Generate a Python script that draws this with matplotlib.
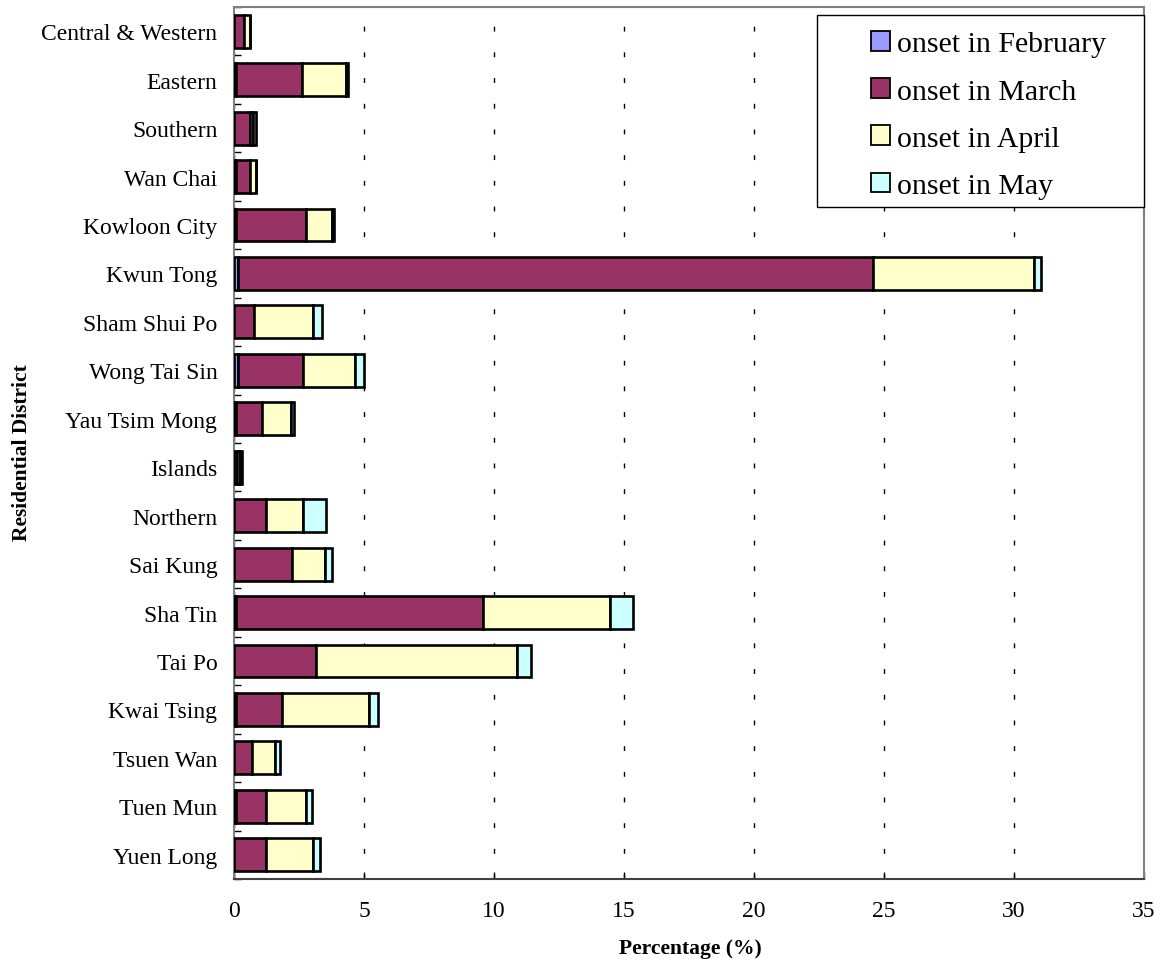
import numpy as np
import matplotlib
matplotlib.use("Agg")
import matplotlib.pyplot as plt
from matplotlib.patches import Rectangle

plt.rcParams['font.family'] = ['Liberation Serif', 'DejaVu Serif']

# Districts, top to bottom as drawn
districts = ['Central & Western', 'Eastern', 'Southern', 'Wan Chai', 'Kowloon City',
             'Kwun Tong', 'Sham Shui Po', 'Wong Tai Sin', 'Yau Tsim Mong', 'Islands',
             'Northern', 'Sai Kung', 'Sha Tin', 'Tai Po', 'Kwai Tsing', 'Tsuen Wan',
             'Tuen Mun', 'Yuen Long']

# Percentage of cases by month of onset
onset_feb = [0.0, 0.08, 0.0, 0.08, 0.08, 0.15, 0.0, 0.15, 0.08, 0.0,
             0.0, 0.0, 0.08, 0.0, 0.08, 0.0, 0.08, 0.0]
onset_mar = [0.38, 2.53, 0.62, 0.54, 2.70, 24.44, 0.76, 2.52, 1.00, 0.12,
             1.22, 2.22, 9.50, 3.15, 1.77, 0.69, 1.14, 1.22]
onset_apr = [0.23, 1.71, 0.10, 0.23, 0.97, 6.19, 2.29, 2.00, 1.12, 0.10,
             1.45, 1.29, 4.89, 7.72, 3.34, 0.90, 1.55, 1.83]
onset_may = [0.0, 0.06, 0.13, 0.0, 0.10, 0.24, 0.32, 0.32, 0.10, 0.10,
             0.87, 0.25, 0.86, 0.55, 0.34, 0.19, 0.23, 0.25]

series = [
    ('onset in February', onset_feb, '#9999FF'),
    ('onset in March', onset_mar, '#993366'),
    ('onset in April', onset_apr, '#FFFFCC'),
    ('onset in May', onset_may, '#CCFFFF'),
]

W, H = 1160, 962
fig = plt.figure(figsize=(W / 100, H / 100), dpi=100)
ax = fig.add_axes([234 / W, (H - 880) / H, 910 / W, 872 / H])

y = np.arange(len(districts))
left = np.zeros(len(districts))
handles = []
for label, vals, color in series:
    vals = np.array(vals)
    b = ax.barh(y, vals, left=left, height=0.68, color=color,
                edgecolor='black', linewidth=1.9, label=label, zorder=3)
    handles.append(b)
    left += vals

ax.set_ylim(len(districts) - 0.5, -0.5)
ax.set_xlim(0, 35)
ax.set_xticks(np.arange(0, 36, 5))
ax.set_yticks(y)
ax.set_yticklabels(districts)
ax.set_yticks(np.arange(-0.5, len(districts), 1), minor=True)

ax.tick_params(axis='y', which='major', length=0, pad=12, labelsize=17)
ax.tick_params(axis='y', which='minor', direction='in', length=5, width=1, color='black')
ax.tick_params(axis='x', which='major', direction='in', length=5, width=1,
               pad=15, labelsize=17)

ax.xaxis.grid(True, color='black', linestyle=(0, (3.5, 15)), linewidth=1, zorder=0)
ax.set_axisbelow(True)

for side in ['top', 'left', 'right']:
    ax.spines[side].set_color('#808080')
    ax.spines[side].set_linewidth(1.5)
ax.spines['bottom'].set_color('#404040')
ax.spines['bottom'].set_linewidth(1.5)

ax.set_xlabel('Percentage (%)', fontsize=15.5, fontweight='bold')
ax.set_ylabel('Residential District', fontsize=15.5, fontweight='bold')
ax.xaxis.set_label_coords(0.501, -0.068)
ax.yaxis.set_label_coords(-0.222, 0.49)

# Legend box in the top right corner
fig.patches.append(Rectangle((817 / W, (H - 208) / H), (1144 - 817) / W, 192 / H,
                             transform=fig.transFigure, facecolor='white',
                             edgecolor='black', linewidth=1, zorder=5))
leg = fig.legend(handles=handles, loc='center', bbox_to_anchor=(989 / W, 1 - 116 / H),
                 frameon=False, fontsize=21.5, handlelength=0.62, handleheight=0.62,
                 handletextpad=0.25, labelspacing=0.70)
for h in leg.legend_handles:
    h.set_linewidth(1.3)
leg.set_zorder(6)

fig.savefig('out.png', dpi=100)
